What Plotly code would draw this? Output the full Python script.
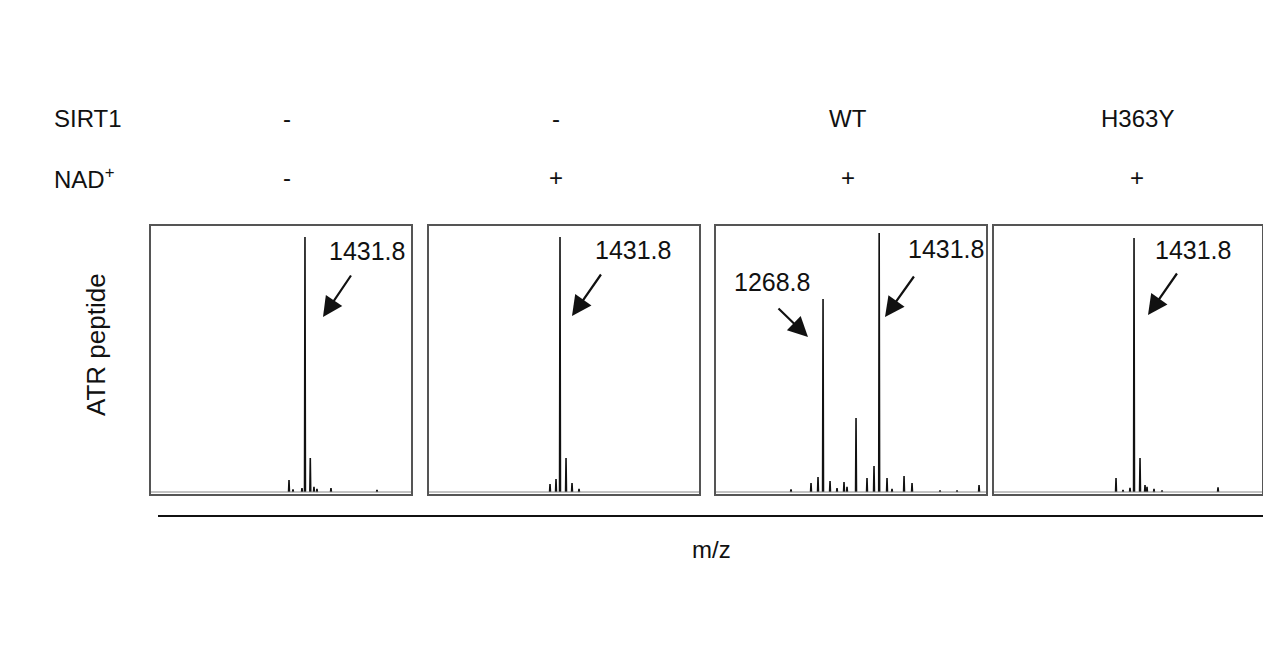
import plotly.graph_objects as go

# page has an 8px body margin -> draw on a slightly smaller canvas and offset
OFF = 8
W, H = 1255, 630

# ---------------- data ----------------
sirt1_labels = ["-", "-", "WT", "H363Y"]
nad_labels = ["-", "+", "+", "+"]

p1_mz = [1385.4, 1397.0, 1423.1, 1431.8, 1447.2, 1457.9, 1466.6, 1507.3, 1640.9]
p1_int = [4.7, 1.0, 1.5, 100.0, 13.3, 2.0, 1.2, 1.5, 0.8]

p2_mz = [1402.8, 1420.2, 1431.8, 1449.3, 1466.7, 1487.0]
p2_int = [3.1, 5.1, 100.0, 13.3, 3.5, 1.2]

p3_mz = [1175.8, 1233.9, 1254.2, 1268.8, 1289.1, 1309.4, 1329.7, 1338.4, 1364.6,
         1396.5, 1416.8, 1431.8, 1454.6, 1469.1, 1504.0, 1527.2, 1608.5, 1657.9, 1721.8]
p3_int = [1.0, 3.5, 5.9, 75.7, 4.3, 1.5, 3.9, 2.0, 29.0,
          5.5, 10.2, 101.6, 5.5, 1.2, 6.3, 3.5, 0.6, 0.6, 2.7]

p4_mz = [1379.5, 1399.8, 1420.1, 1431.8, 1449.2, 1463.7, 1469.5, 1489.8, 1513.1, 1675.7]
p4_int = [5.5, 0.8, 1.6, 99.6, 13.3, 2.7, 2.0, 1.2, 0.6, 1.8]

labelled_peaks = [[1431.8], [1431.8], [1268.8, 1431.8], [1431.8]]

spectra = [(p1_mz, p1_int), (p2_mz, p2_int), (p3_mz, p3_int), (p4_mz, p4_int)]

# ---------------- layout config ----------------
x_ranges = [[984.6, 1739.7], [1051.4, 1835.4], [958.0, 1742.0], [1025.2, 1803.4]]
y_range = [-0.78, 104.3]
panel_px = [(151, 411), (429, 699), (716, 986), (994, 1262)]
panel_top, panel_bot = 226, 494

def px(x):
    return min(1.0, max(0.0, (x - OFF) / W))

def py(y):
    return min(1.0, max(0.0, 1 - (y - OFF) / H))

FONT = "Liberation Sans, Arial, sans-serif"

fig = go.Figure()
layout = dict(
    width=W, height=H, margin=dict(l=0, r=0, t=0, b=0),
    paper_bgcolor="white", plot_bgcolor="white", showlegend=False,
    font=dict(family=FONT, size=24, color="#111"),
)

half_w = 1.3
for i, (mz, inten) in enumerate(spectra):
    xs, ys = [], []
    for m, v in zip(mz, inten):
        xs += [m - half_w, m, m + half_w, None]
        ys += [0, v, 0, None]
    ax = "" if i == 0 else str(i + 1)
    fig.add_trace(go.Scatter(x=xs, y=ys, mode="lines",
                             line=dict(color="#111", width=1.6),
                             xaxis="x" + ax, yaxis="y" + ax, hoverinfo="skip"))
    x0, x1 = panel_px[i]
    axis_common = dict(showline=True, mirror=True, linecolor="#555", linewidth=1.5,
                       showgrid=False, zeroline=False, showticklabels=False, ticks="")
    layout["xaxis" + ax] = dict(domain=[px(x0), px(x1)], range=x_ranges[i],
                                anchor="y" + ax, **axis_common)
    layout["yaxis" + ax] = dict(domain=[py(panel_bot), py(panel_top)], range=y_range,
                                anchor="x" + ax, **axis_common)

fig.update_layout(**layout)

# baselines in each panel
for i in range(4):
    ax = "" if i == 0 else str(i + 1)
    fig.add_shape(type="line", xref=("x" + ax) + " domain", yref="y" + ax,
                  x0=0, x1=1, y0=0, y1=0, line=dict(color="#888", width=1.2))

# bottom m/z rule
fig.add_shape(type="line", xref="paper", yref="paper",
              x0=px(158), x1=px(1263), y0=py(516), y1=py(516),
              line=dict(color="#111", width=2))

annotations = []
# row headers
annotations.append(dict(x=px(52), y=py(118), xref="paper", yref="paper", text="SIRT1",
                        showarrow=False, xanchor="left", yanchor="middle"))
annotations.append(dict(x=px(52), y=py(178), xref="paper", yref="paper", text="NAD<sup>+</sup>",
                        showarrow=False, xanchor="left", yanchor="middle"))
col_x = [287, 556, 848, 1137]
for cx, s, n in zip(col_x, sirt1_labels, nad_labels):
    annotations.append(dict(x=px(cx), y=py(118), xref="paper", yref="paper", text=s,
                            showarrow=False, xanchor="center", yanchor="middle"))
    annotations.append(dict(x=px(cx), y=py(178), xref="paper", yref="paper", text=n,
                            showarrow=False, xanchor="center", yanchor="middle"))

annotations.append(dict(x=px(96), y=py(345), xref="paper", yref="paper", text="ATR peptide",
                        showarrow=False, textangle=-90, xanchor="center", yanchor="middle",
                        font=dict(size=26)))
annotations.append(dict(x=px(711), y=py(549), xref="paper", yref="paper", text="m/z",
                        showarrow=False, xanchor="center", yanchor="middle"))

# peak labels: (text centre, arrow tail, arrow head) in pixels
peak_label_px = [
    [((367, 251), (352, 274), (323, 317))],
    [((633, 250), (602, 273), (572, 316))],
    [((772, 282), (777, 307), (808, 337)), ((946, 249), (915, 275), (885, 317))],
    [((1193, 250), (1178, 272), (1148, 315))],
]
for i, peaks in enumerate(labelled_peaks):
    for m, (tc, tail, head) in zip(peaks, peak_label_px[i]):
        annotations.append(dict(x=px(tc[0]), y=py(tc[1]), xref="paper", yref="paper",
                                text=f"{m:.1f}", showarrow=False,
                                xanchor="center", yanchor="middle", font=dict(size=25)))
        annotations.append(dict(x=px(head[0]), y=py(head[1]), xref="paper", yref="paper",
                                text="", showarrow=True, arrowhead=2, arrowsize=1.8,
                                arrowwidth=2.2, arrowcolor="#111",
                                ax=tail[0] - head[0], ay=tail[1] - head[1]))

fig.update_layout(annotations=annotations)
fig.write_html("out.html")
